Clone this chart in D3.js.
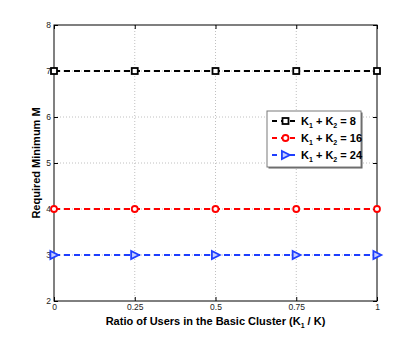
<!DOCTYPE html>
<html>
<head>
<meta charset="utf-8">
<script src="https://cdn.jsdelivr.net/npm/d3@7"></script>
<style>
  body { margin: 0; background: #fff; }
  svg { display: block; font-family: "Liberation Sans", Arial, Helvetica, sans-serif; }
</style>
</head>
<body>
<div id="chart"></div>
<script>
const ratios = [0, 0.25, 0.5, 0.75, 1];
const xTicks = [0, 0.25, 0.5, 0.75, 1];
const xTickLabels = ["0", "0.25", "0.5", "0.75", "1"];
const yTicks = [2, 3, 4, 5, 6, 7, 8];
const seriesNames = ["8", "16", "24"];
const minM8 = [7, 7, 7, 7, 7];
const minM16 = [4, 4, 4, 4, 4];
const minM24 = [3, 3, 3, 3, 3];

const series = [
  {sum: seriesNames[0], values: minM8, color: "#000000", marker: "square"},
  {sum: seriesNames[1], values: minM16, color: "#ff0000", marker: "circle"},
  {sum: seriesNames[2], values: minM24, color: "#1f3fff", marker: "triangle"}
];

const width = 415, height = 339;
const margin = {top: 25, right: 38, bottom: 38, left: 54};

const svg = d3.select("#chart").append("svg")
    .attr("width", width)
    .attr("height", height);

const x = d3.scaleLinear().domain([0, 1]).range([margin.left, width - margin.right]);
const y = d3.scaleLinear().domain([2, 8]).range([height - margin.bottom, margin.top]);

// grid lines
svg.append("g").selectAll("line").data(xTicks.slice(1, -1)).join("line")
    .attr("x1", d => x(d)).attr("x2", d => x(d))
    .attr("y1", y(8)).attr("y2", y(2))
    .attr("stroke", "#b0b0b0").attr("stroke-width", 0.8)
    .attr("stroke-dasharray", "1,2");
svg.append("g").selectAll("line").data(yTicks.slice(1, -1)).join("line")
    .attr("x1", x(0)).attr("x2", x(1))
    .attr("y1", d => y(d)).attr("y2", d => y(d))
    .attr("stroke", "#b0b0b0").attr("stroke-width", 0.8)
    .attr("stroke-dasharray", "1,2");

// box
svg.append("rect")
    .attr("x", x(0)).attr("y", y(8))
    .attr("width", x(1) - x(0)).attr("height", y(2) - y(8))
    .attr("fill", "none").attr("stroke", "#000").attr("stroke-width", 1);
svg.append("line")
    .attr("x1", x(0)).attr("x2", x(0)).attr("y1", y(8)).attr("y2", y(2))
    .attr("stroke", "#808080").attr("stroke-width", 2);

// axes with inward ticks
const tickLen = 4;
svg.append("g")
    .attr("transform", `translate(0,${y(2)})`)
    .call(d3.axisBottom(x).tickValues(xTicks).tickSize(-tickLen).tickPadding(3)
          .tickFormat((d, i) => xTickLabels[i]))
    .call(g => g.select(".domain").remove())
    .call(g => g.selectAll("text").attr("font-size", 8.5).attr("fill", "#222"));
svg.append("g")
    .attr("transform", `translate(0,${y(8)})`)
    .call(d3.axisTop(x).tickValues(xTicks).tickSize(-tickLen).tickFormat(""))
    .call(g => g.select(".domain").remove());
svg.append("g")
    .attr("transform", `translate(${x(0)},0)`)
    .call(d3.axisLeft(y).tickValues(yTicks).tickSize(-tickLen).tickPadding(3)
          .tickFormat(d3.format("d")))
    .call(g => g.select(".domain").remove())
    .call(g => g.selectAll("text").attr("font-size", 8.5).attr("fill", "#222"));
svg.append("g")
    .attr("transform", `translate(${x(1)},0)`)
    .call(d3.axisRight(y).tickValues(yTicks).tickSize(-tickLen).tickFormat(""))
    .call(g => g.select(".domain").remove());

// marker drawing helper
function drawMarker(g, type, color, cx, cy, size) {
  if (type === "square") {
    g.append("rect")
        .attr("x", cx - size / 2).attr("y", cy - size / 2)
        .attr("width", size).attr("height", size)
        .attr("fill", "#fff").attr("stroke", color).attr("stroke-width", 1.8);
  } else if (type === "circle") {
    g.append("circle")
        .attr("cx", cx).attr("cy", cy).attr("r", size / 2)
        .attr("fill", "#fff").attr("stroke", color).attr("stroke-width", 1.8);
  } else {
    const s = size * 0.6;
    g.append("path")
        .attr("d", `M${cx - s},${cy - s * 1.1}L${cx + s * 1.2},${cy}L${cx - s},${cy + s * 1.1}Z`)
        .attr("fill", "#c8d0ff").attr("stroke", color).attr("stroke-width", 1.8)
        .attr("stroke-linejoin", "miter");
  }
}

const line = d3.line().x((d, i) => x(ratios[i])).y(d => y(d));

series.forEach(s => {
  svg.append("path")
      .datum(s.values)
      .attr("fill", "none")
      .attr("stroke", s.color)
      .attr("stroke-width", 2)
      .attr("stroke-dasharray", "6,4")
      .attr("d", line);
  const mg = svg.append("g");
  s.values.forEach((v, i) => drawMarker(mg, s.marker, s.color, x(ratios[i]), y(v), 6));
});

// legend
const lg = svg.append("g").attr("transform", "translate(267,111)");
lg.append("rect").attr("x", 1.5).attr("y", 1.5).attr("width", 94).attr("height", 56)
    .attr("fill", "#606060");
lg.append("rect").attr("width", 94).attr("height", 56)
    .attr("fill", "#fff").attr("stroke", "#7a7a7a").attr("stroke-width", 1);
series.forEach((s, i) => {
  const ry = 10 + i * 17;
  lg.append("line")
      .attr("x1", 5).attr("x2", 32).attr("y1", ry).attr("y2", ry)
      .attr("stroke", s.color).attr("stroke-width", 2)
      .attr("stroke-dasharray", "5,4");
  const mg = lg.append("g");
  drawMarker(mg, s.marker, s.color, 18.5, ry, 6);
  const t = lg.append("text")
      .attr("x", 34).attr("y", ry + 4)
      .attr("font-size", 11).attr("font-weight", "bold").attr("fill", "#000");
  t.append("tspan").text("K");
  t.append("tspan").attr("dy", 3).attr("font-size", 7).text("1");
  t.append("tspan").attr("dy", -3).text(" + K");
  t.append("tspan").attr("dy", 3).attr("font-size", 7).text("2");
  t.append("tspan").attr("dy", -3).text(" = " + s.sum);
});

// axis labels
const xl = svg.append("text")
    .attr("x", (x(0) + x(1)) / 2).attr("y", 325)
    .attr("text-anchor", "middle")
    .attr("font-size", 11).attr("font-weight", "bold");
xl.append("tspan").text("Ratio of Users in the Basic Cluster (K");
xl.append("tspan").attr("dy", 3).attr("font-size", 7).text("1");
xl.append("tspan").attr("dy", -3).text(" / K)");

svg.append("text")
    .attr("transform", `translate(40,${(y(2) + y(8)) / 2}) rotate(-90)`)
    .attr("text-anchor", "middle")
    .attr("font-size", 11).attr("font-weight", "bold")
    .text("Required Minimum M");
</script>
</body>
</html>
